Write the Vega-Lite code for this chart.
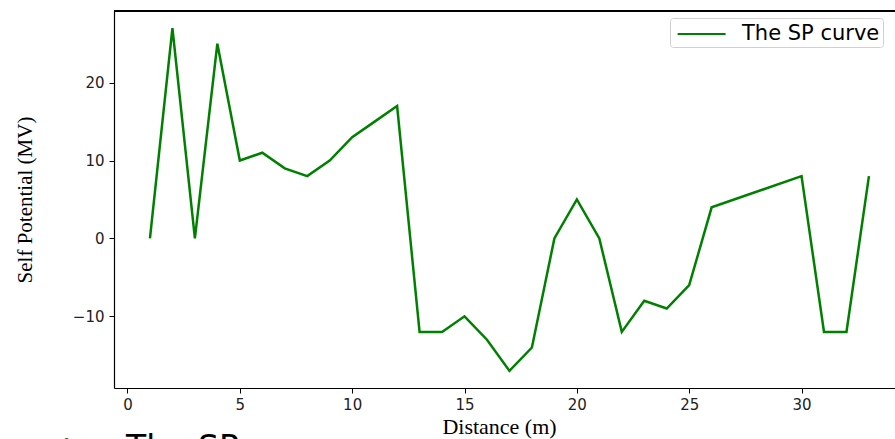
{
  "$schema": "https://vega.github.io/schema/vega-lite/v6.json",
  "autosize": "none",
  "width": 781,
  "height": 377,
  "padding": {"left": 114, "top": 11, "right": 0, "bottom": 51},
  "background": "white",
  "config": {"view": {"stroke": null}},
  "title": {"text": "✓\u00a0\u00a0\u00a0\u00a0\u00a0The SP", "orient": "bottom", "anchor": "start", "frame": "group", "dx": -68, "offset": -4, "baseline": "top", "font": "DejaVu Sans", "fontSize": 33, "fontWeight": "normal", "color": "black"},
  "data": {"values": [
    {"d": 1, "v": 0}, {"d": 2, "v": 27}, {"d": 3, "v": 0}, {"d": 4, "v": 25},
    {"d": 5, "v": 10}, {"d": 6, "v": 11}, {"d": 7, "v": 9}, {"d": 8, "v": 8},
    {"d": 9, "v": 10}, {"d": 10, "v": 13}, {"d": 11, "v": 15}, {"d": 12, "v": 17},
    {"d": 13, "v": -12}, {"d": 14, "v": -12}, {"d": 15, "v": -10}, {"d": 16, "v": -13},
    {"d": 17, "v": -17}, {"d": 18, "v": -14}, {"d": 19, "v": 0}, {"d": 20, "v": 5},
    {"d": 21, "v": 0}, {"d": 22, "v": -12}, {"d": 23, "v": -8}, {"d": 24, "v": -9},
    {"d": 25, "v": -6}, {"d": 26, "v": 4}, {"d": 30, "v": 8}, {"d": 31, "v": -12},
    {"d": 32, "v": -12}, {"d": 33, "v": 8}
  ]},
  "layer": [
    {
      "mark": {"type": "rule", "color": "black", "strokeWidth": 1.2, "clip": false},
      "encoding": {"y": {"datum": 29.2, "type": "quantitative"}}
    },
    {
      "mark": {"type": "line", "strokeWidth": 2.5, "clip": true},
      "encoding": {
        "x": {"field": "d", "type": "quantitative",
          "scale": {"domain": [-0.6, 34.16], "nice": false, "zero": false},
          "axis": {"title": "Distance (m)", "values": [0, 5, 10, 15, 20, 25, 30], "grid": false, "domain": true, "domainColor": "black", "domainWidth": 1.2,
            "tickColor": "black", "tickSize": 5, "labelFont": "DejaVu Sans", "labelFontSize": 15, "labelColor": "#222", "labelPadding": 4,
            "titleFont": "Liberation Serif", "titleFontSize": 22, "titleFontWeight": "normal", "titleColor": "black", "titleX": 385, "titleY": 45, "titleBaseline": "alphabetic"}},
        "y": {"field": "v", "type": "quantitative",
          "scale": {"domain": [-19.2, 29.2], "nice": false, "zero": false},
          "axis": {"title": "Self Potential (MV)", "values": [-10, 0, 10, 20], "grid": false, "domain": true, "domainColor": "black", "domainWidth": 1.2,
            "tickColor": "black", "tickSize": 5, "labelFont": "DejaVu Sans", "labelFontSize": 15, "labelColor": "#222", "labelPadding": 5,
            "titleFont": "Liberation Serif", "titleFontSize": 21, "titleFontWeight": "normal", "titleColor": "black", "titleX": -83, "titleBaseline": "alphabetic"}},
        "color": {"datum": "The SP curve", "type": "nominal",
          "scale": {"range": ["#008000"]},
          "legend": {"title": null, "orient": "none", "legendX": 556, "legendY": 7,
            "symbolType": "M-0.7,0H3.3", "symbolSize": 576, "symbolStrokeWidth": 2,
            "labelFont": "DejaVu Sans", "labelFontSize": 21, "labelColor": "black", "labelOffset": 43,
            "strokeColor": "#d0d0d0", "fillColor": "white", "cornerRadius": 3, "padding": 3}}
      }
    }
  ]
}
